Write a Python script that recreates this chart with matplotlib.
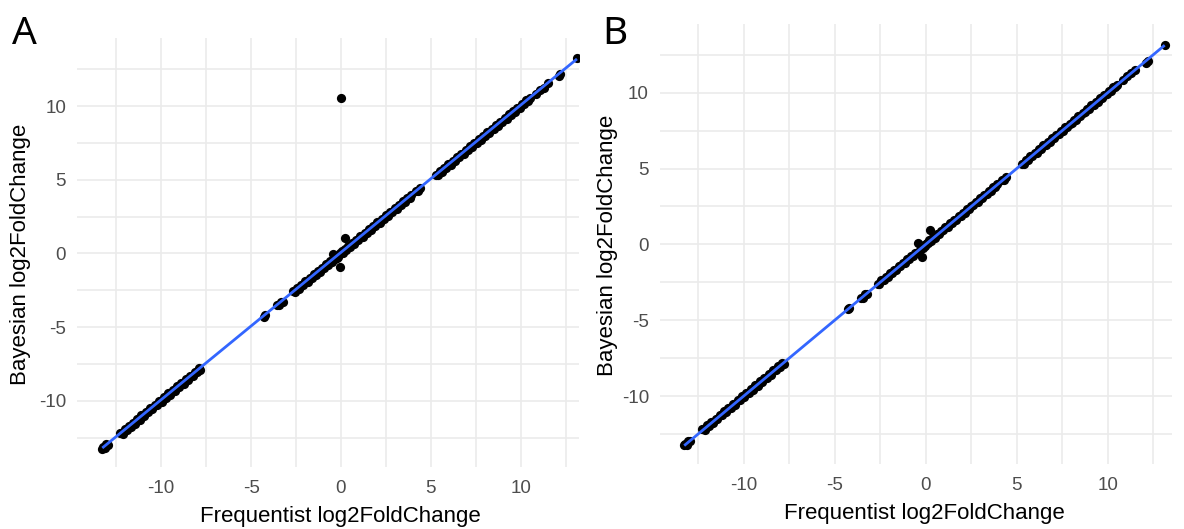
import numpy as np
import matplotlib
matplotlib.use("Agg")
import matplotlib.pyplot as plt
from matplotlib.ticker import MultipleLocator

# Frequentist log2FoldChange (shared x values)
freq_lfc = [
    -13.28, -13.22, -13.15, -13.05, -12.98,
    -12.28, -12.15, -12.02, -11.9, -11.81, -11.7, -11.55, -11.46, -11.33, -11.2,
    -11.1, -10.97, -10.85, -10.72, -10.6, -10.49, -10.35, -10.22, -10.1, -9.98,
    -9.86, -9.73, -9.6, -9.5, -9.37, -9.25, -9.12, -9.0, -8.88, -8.75,
    -8.62, -8.5, -8.38, -8.26, -8.12, -8.0, -7.88, -7.82,
    -4.28, -4.2,
    -3.58, -3.46, -3.35, -3.24,
    -2.65, -2.55, -2.44, -2.32, -2.2, -2.1, -1.98, -1.86, -1.75, -1.62,
    -1.5, -1.4, -1.28, -1.16, -1.05, -0.94, -0.82, -0.7, -0.6, -0.5,
    -0.42, -0.33, -0.25, -0.22, -0.16, -0.08, -0.05, 0.0, 0.05, 0.12,
    0.2, 0.22, 0.3, 0.4, 0.5, 0.62, 0.74, 0.85, 0.97, 1.08,
    1.2, 1.32, 1.44, 1.55, 1.67, 1.8, 1.92, 2.03, 2.15, 2.27,
    2.4, 2.5, 2.62, 2.74, 2.86, 2.98, 3.1, 3.22, 3.34, 3.46,
    3.58, 3.7, 3.82, 3.92,
    4.18, 4.3, 4.42,
    5.27, 5.38, 5.5, 5.62, 5.74, 5.86, 5.98, 6.1, 6.22, 6.35,
    6.46, 6.58, 6.7, 6.82, 6.95, 7.06, 7.18, 7.3, 7.42, 7.55,
    7.66, 7.78, 7.9, 8.02, 8.15, 8.26, 8.38, 8.5, 8.62, 8.75,
    8.86, 8.98, 9.1, 9.22, 9.35, 9.46, 9.58, 9.7, 9.82, 9.95,
    10.06, 10.18, 10.3, 10.42, 10.5,
    10.85, 11.05, 11.3, 11.5, 12.12, 12.2,
    13.13,
]

# Bayesian log2FoldChange, panel A
bayes_lfc_a = [
    -13.3, -13.14, -13.22, -12.96, -12.99,
    -12.16, -12.24, -11.92, -12.0, -11.7, -11.8, -11.48, -11.56, -11.22, -11.3,
    -10.99, -11.06, -10.77, -10.8, -10.49, -10.58, -10.27, -10.31, -9.99, -10.08,
    -9.77, -9.82, -9.5, -9.59, -9.27, -9.35, -9.02, -9.09, -8.79, -8.84,
    -8.52, -8.6, -8.29, -8.33, -8.03, -8.08, -7.8, -7.89,
    -4.3, -4.15,
    -3.52, -3.53, -3.27, -3.3,
    -2.58, -2.62, -2.35, -2.39, -2.12, -2.17, -1.89, -1.93, -1.67, -1.69,
    -1.42, -1.47, -1.19, -1.23, -0.97, -1.01, -0.73, -0.77, -0.52, -0.57,
    -0.02, -0.4, -0.17, -0.29, -0.23, 0.0, -0.9, 10.55, 0.14, 0.05,
    0.28, 1.02, 0.23, 0.48, 0.43, 0.7, 0.67, 0.93, 0.9, 1.16,
    1.13, 1.4, 1.37, 1.63, 1.6, 1.88, 1.85, 2.11, 2.08, 2.35,
    2.33, 2.58, 2.55, 2.82, 2.79, 3.06, 3.03, 3.3, 3.27, 3.54,
    3.51, 3.78, 3.75, 3.99,
    4.25, 4.23, 4.46,
    5.35, 5.31, 5.58, 5.55, 5.82, 5.79, 6.06, 6.03, 6.3, 6.28,
    6.54, 6.51, 6.78, 6.75, 7.03, 6.99, 7.26, 7.23, 7.5, 7.48,
    7.74, 7.71, 7.98, 7.95, 8.23, 8.19, 8.46, 8.43, 8.7, 8.68,
    8.94, 8.91, 9.18, 9.15, 9.43, 9.39, 9.66, 9.63, 9.9, 9.88,
    10.14, 10.11, 10.38, 10.35, 10.55,
    10.8, 11.1, 11.25, 11.55, 12.05, 12.15,
    13.25,
]

# Bayesian log2FoldChange, panel B
bayes_lfc_b = [
    -13.25, -13.17, -13.21, -12.99, -12.98,
    -12.19, -12.23, -11.94, -11.99, -11.73, -11.79, -11.49, -11.53, -11.24, -11.28,
    -11.01, -11.04, -10.79, -10.79, -10.51, -10.56, -10.29, -10.29, -10.01, -10.06,
    -9.79, -9.8, -9.52, -9.57, -9.29, -9.33, -9.04, -9.07, -8.81, -8.82,
    -8.54, -8.58, -8.31, -8.31, -8.05, -8.06, -7.82, -7.87,
    -4.28, -4.17,
    -3.54, -3.51, -3.29, -3.29,
    -2.6, -2.61, -2.37, -2.37, -2.14, -2.15, -1.91, -1.91, -1.69, -1.67,
    -1.44, -1.45, -1.21, -1.21, -0.99, -0.99, -0.75, -0.75, -0.54, -0.55,
    0.07, -0.38, -0.19, -0.81, -0.21, -0.02, -0.08, 0.04, 0.11, 0.07,
    0.26, 0.95, 0.25, 0.46, 0.45, 0.68, 0.69, 0.91, 0.92, 1.14,
    1.15, 1.38, 1.39, 1.61, 1.62, 1.86, 1.87, 2.09, 2.1, 2.33,
    2.35, 2.56, 2.57, 2.8, 2.81, 3.04, 3.05, 3.28, 3.29, 3.52,
    3.53, 3.76, 3.77, 3.97,
    4.23, 4.25, 4.45,
    5.33, 5.33, 5.56, 5.57, 5.8, 5.81, 6.04, 6.05, 6.28, 6.3,
    6.52, 6.53, 6.76, 6.77, 7.01, 7.01, 7.24, 7.25, 7.48, 7.5,
    7.72, 7.73, 7.96, 7.97, 8.21, 8.21, 8.44, 8.45, 8.68, 8.7,
    8.92, 8.93, 9.16, 9.17, 9.41, 9.41, 9.64, 9.65, 9.88, 9.9,
    10.12, 10.13, 10.36, 10.37, 10.53,
    10.82, 11.08, 11.27, 11.52, 11.94, 12.1,
    13.15,
]

x_ticks = [-10, -5, 0, 5, 10]
y_ticks = [-10, -5, 0, 5, 10]
x_label = "Frequentist log2FoldChange"
y_label = "Bayesian log2FoldChange"
panel_tags = ["A", "B"]

W, H = 1184, 529
fig = plt.figure(figsize=(W / 100, H / 100), dpi=100)
plt.rcParams['font.family'] = ['Liberation Sans', 'DejaVu Sans']


def px_rect(l, t, r, b):
    return [l / W, (H - b) / H, (r - l) / W, (b - t) / H]


panels = [
    dict(rect=px_rect(77.3, 38.3, 579.3, 467.3), xlim=(-14.67, 13.26), ylim=(-14.52, 14.6),
         y=bayes_lfc_a, tag_xy=(12, 44)),
    dict(rect=px_rect(660, 24, 1172, 464), xlim=(-14.61, 13.53), ylim=(-14.48, 14.53),
         y=bayes_lfc_b, tag_xy=(602, 44)),
]

grid_col = "#EBEBEB"
for i, p in enumerate(panels):
    ax = fig.add_axes(p["rect"])
    x = np.array(freq_lfc)
    y = np.array(p["y"])
    ax.scatter(x, y, s=44, c="black", linewidths=0, zorder=3)
    slope, icpt = np.polyfit(x, y, 1)
    xs = np.array([x.min(), x.max()])
    ax.plot(xs, slope * xs + icpt, color="#3366FF", lw=2.0, zorder=4, solid_capstyle="butt")
    ax.set_xlim(*p["xlim"])
    ax.set_ylim(*p["ylim"])
    ax.set_xticks(x_ticks)
    ax.set_yticks(y_ticks)
    ax.set_xticklabels([str(v) for v in x_ticks])
    ax.set_yticklabels([str(v) for v in y_ticks])
    ax.xaxis.set_minor_locator(MultipleLocator(2.5))
    ax.yaxis.set_minor_locator(MultipleLocator(2.5))
    ax.grid(which="major", color=grid_col, lw=1.2, zorder=0)
    ax.grid(which="minor", color=grid_col, lw=1.2, zorder=0)
    ax.set_axisbelow(True)
    for s in ax.spines.values():
        s.set_visible(False)
    ax.tick_params(which="both", length=0)
    ax.tick_params(axis="x", pad=9, labelsize=13.5, labelcolor="#4D4D4D")
    ax.tick_params(axis="y", pad=8, labelsize=13.5, labelcolor="#4D4D4D")
    ax.set_xlabel(x_label, fontsize=16, color="black")
    ax.set_ylabel(y_label, fontsize=16, color="black")
    l, b, w, h = p["rect"]
    axl, axb, axw, axh = l * W, b * H, w * W, h * H
    if i == 0:
        xl_center_x, xl_center_y = 340.5, 516.5
        yl_center_x, yl_center_y = 21, 254
    else:
        xl_center_x, xl_center_y = 924, 513
        yl_center_x, yl_center_y = 608, 245
    ax.xaxis.set_label_coords((xl_center_x - axl) / axw, ((H - xl_center_y) - axb) / axh)
    ax.xaxis.label.set_va("center")
    ax.yaxis.set_label_coords((yl_center_x - axl) / axw, ((H - yl_center_y) - axb) / axh)
    ax.yaxis.label.set_va("center")
    ax.yaxis.label.set_ha("center")
    fig.text(p["tag_xy"][0] / W, (H - p["tag_xy"][1]) / H, panel_tags[i],
             fontsize=28, family="Noto Sans", va="baseline", ha="left", color="black")

fig.savefig("out.png", dpi=100)
